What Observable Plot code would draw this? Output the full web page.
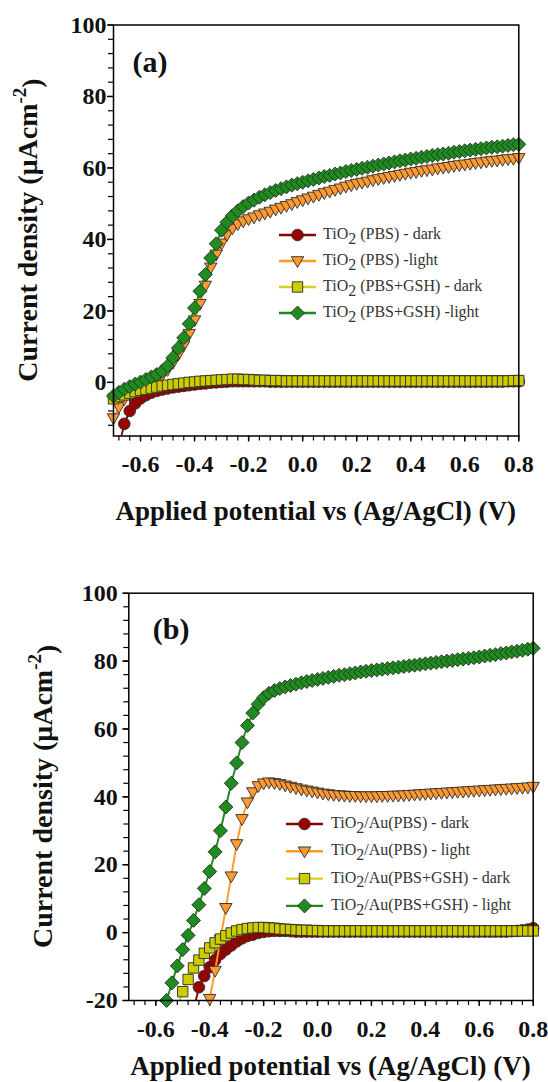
<!DOCTYPE html>
<html><head><meta charset="utf-8">
<script src="https://cdn.jsdelivr.net/npm/d3@7"></script>
<script src="https://cdn.jsdelivr.net/npm/@observablehq/plot@0.6"></script>
<style>
html,body{margin:0;padding:0;background:#fff;}
#wrap{position:relative;width:548px;height:1082px;overflow:hidden;background:#fff;}
#wrap svg{position:absolute;left:0;}
</style></head><body><div id="wrap"></div>
<script>
// ---------------- DATA ----------------
const potential = [
 -0.70,-0.68,-0.66,-0.64,-0.62,-0.60,-0.58,-0.56,-0.54,-0.52,
 -0.50,-0.48,-0.46,-0.44,-0.42,-0.40,-0.38,-0.36,-0.34,-0.32,
 -0.30,-0.28,-0.26,-0.24,-0.22,-0.20,-0.18,-0.16,-0.14,-0.12,
 -0.10,-0.08,-0.06,-0.04,-0.02,0.00,0.02,0.04,0.06,0.08,
 0.10,0.12,0.14,0.16,0.18,0.20,0.22,0.24,0.26,0.28,
 0.30,0.32,0.34,0.36,0.38,0.40,0.42,0.44,0.46,0.48,
 0.50,0.52,0.54,0.56,0.58,0.60,0.62,0.64,0.66,0.68,
 0.70,0.72,0.74,0.76,0.78,0.80];

// Panel (a): TiO2
const a_PBS_dark = [
 -25,-18,-11.6,-8.0,-5.9,-4.5,-3.6,-2.9,-2.4,-2.0,
 -1.7,-1.4,-1.2,-1.0,-0.8,-0.6,-0.4,-0.3,-0.1,0.0,
 0.1,0.2,0.3,0.3,0.3,0.3,0.3,0.3,0.3,0.2,
 0.2,0.2,0.2,0.2,0.2,0.2,0.2,0.2,0.2,0.2,
 0.2,0.2,0.2,0.2,0.2,0.2,0.2,0.2,0.2,0.2,
 0.2,0.2,0.2,0.2,0.2,0.2,0.2,0.2,0.2,0.2,
 0.2,0.2,0.2,0.2,0.2,0.2,0.2,0.2,0.2,0.2,
 0.2,0.2,0.2,0.3,0.3,0.3];
const a_PBS_light = [
 -10.0,-6.9,-4.7,-3.4,-2.4,-1.5,-0.7,0.0,0.9,2.0,
 3.5,5.5,7.8,10.4,13.6,17.4,22.0,27.1,32.2,35.8,
 38.9,41.3,43.1,44.3,45.1,45.7,46.2,46.8,47.3,47.8,
 48.4,48.9,49.4,49.9,50.5,51.0,51.5,52.0,52.5,53.0,
 53.4,53.9,54.3,54.8,55.2,55.6,55.9,56.2,56.6,56.9,
 57.2,57.5,57.8,58.1,58.4,58.7,58.9,59.2,59.4,59.6,
 59.9,60.1,60.3,60.6,60.8,61.0,61.2,61.4,61.6,61.8,
 62.0,62.1,62.3,62.5,62.6,62.8];
const a_GSH_dark = [
 -4.6,-4.0,-3.5,-3.0,-2.6,-2.2,-1.9,-1.6,-1.3,-1.0,
 -0.8,-0.6,-0.4,-0.2,0.0,0.1,0.3,0.4,0.5,0.6,
 0.7,0.8,0.9,0.9,0.8,0.8,0.7,0.6,0.6,0.5,
 0.5,0.5,0.4,0.4,0.4,0.4,0.4,0.4,0.4,0.4,
 0.4,0.4,0.4,0.4,0.4,0.4,0.4,0.4,0.4,0.4,
 0.4,0.4,0.4,0.4,0.4,0.4,0.4,0.4,0.4,0.4,
 0.4,0.4,0.4,0.4,0.4,0.4,0.4,0.4,0.4,0.4,
 0.4,0.4,0.4,0.4,0.5,0.5];
const a_GSH_light = [
 -3.8,-2.8,-1.9,-1.2,-0.5,0.1,0.8,1.5,2.2,3.1,
 4.6,6.9,9.6,12.5,16.4,20.8,25.5,30.2,34.8,38.8,
 42.6,44.8,46.6,48.0,49.2,50.2,51.0,51.8,52.5,53.1,
 53.7,54.2,54.7,55.2,55.6,56.0,56.4,56.8,57.2,57.6,
 57.9,58.3,58.6,59.0,59.3,59.6,59.9,60.2,60.5,60.8,
 61.1,61.4,61.7,62.0,62.2,62.5,62.7,63.0,63.2,63.5,
 63.7,63.9,64.1,64.4,64.6,64.8,65.0,65.2,65.4,65.6,
 65.8,65.9,66.1,66.3,66.5,66.6];

// Panel (b): TiO2/Au
const b_PBS_dark = [
 null,null,null,null,null,null,null,null,null,null,
 null,null,-23,-16.1,-12.8,-10.2,-8.1,-6.3,-5.0,-3.8,
 -2.6,-1.7,-1.0,-0.6,-0.1,0.2,0.4,0.5,0.5,0.5,
 0.4,0.3,0.3,0.3,0.3,0.3,0.3,0.3,0.3,0.3,
 0.3,0.3,0.3,0.3,0.3,0.3,0.3,0.3,0.3,0.3,
 0.3,0.3,0.3,0.3,0.3,0.3,0.3,0.3,0.3,0.3,
 0.3,0.3,0.3,0.3,0.3,0.3,0.3,0.3,0.3,0.3,
 0.3,0.4,0.5,0.7,0.9,1.3];
const b_PBS_light = [
 null,null,null,null,null,null,null,null,null,null,
 null,null,null,null,-28,-19.5,-11.2,-2.0,7.3,16.6,
 26.1,33.5,38.4,41.4,43.2,44.0,44.3,44.1,43.8,43.4,
 43.0,42.6,42.2,41.9,41.6,41.3,41.0,40.8,40.6,40.5,
 40.4,40.3,40.3,40.2,40.2,40.2,40.2,40.3,40.3,40.4,
 40.4,40.5,40.6,40.7,40.8,40.9,41.0,41.1,41.2,41.3,
 41.4,41.5,41.6,41.7,41.8,41.9,42.0,42.1,42.2,42.3,
 42.4,42.5,42.6,42.7,42.8,43.0];
const b_GSH_dark = [
 null,null,null,null,null,null,null,null,null,-22,
 -17.4,-13.8,-10.4,-8.1,-6.1,-4.5,-3.0,-1.9,-0.9,-0.1,
 0.5,0.9,1.2,1.4,1.5,1.5,1.4,1.3,1.1,1.0,
 0.9,0.8,0.7,0.7,0.6,0.6,0.5,0.5,0.5,0.5,
 0.5,0.5,0.5,0.5,0.5,0.5,0.5,0.5,0.5,0.5,
 0.5,0.5,0.5,0.5,0.5,0.5,0.5,0.5,0.5,0.5,
 0.5,0.5,0.5,0.5,0.5,0.5,0.5,0.5,0.5,0.5,
 0.5,0.5,0.5,0.5,0.5,0.5];
const b_GSH_light = [
 null,null,null,null,null,null,-26,-20.0,-14.8,-9.8,
 -5.0,-0.8,3.6,8.2,13.0,18.0,23.8,30.0,37.0,44.0,
 50.0,56.0,61.0,64.7,67.3,69.2,70.5,71.3,71.9,72.4,
 72.8,73.2,73.6,74.0,74.3,74.6,74.9,75.2,75.5,75.8,
 76.0,76.3,76.5,76.8,77.0,77.2,77.4,77.6,77.8,78.0,
 78.2,78.4,78.6,78.8,79.0,79.2,79.4,79.6,79.8,80.0,
 80.2,80.4,80.6,80.8,81.0,81.2,81.5,81.7,81.9,82.2,
 82.4,82.7,82.9,83.2,83.5,83.8];

const xTicks = [-0.6,-0.4,-0.2,0.0,0.2,0.4,0.6,0.8];
const yTicksA = [0,20,40,60,80,100];
const yTicksB = [-20,0,20,40,60,80,100];
const labelsA = [["TiO","2"," (PBS) - dark"],["TiO","2"," (PBS) -light"],["TiO","2"," (PBS+GSH) - dark"],["TiO","2"," (PBS+GSH) -light"]];
const labelsB = [["TiO","2","/Au(PBS) - dark"],["TiO","2","/Au(PBS) - light"],["TiO","2","/Au(PBS+GSH) - dark"],["TiO","2","/Au(PBS+GSH) - light"]];
const xTitle = "Applied potential vs (Ag/AgCl) (V)";
const yTitle = ["Current density (\u03BCAcm", "-2", ")"];

// ---------------- STYLE ----------------
const SERIF = "'Liberation Serif','Times New Roman',serif";
const sym = {
  circle: r => ({draw(c){c.moveTo(r,0);c.arc(0,0,r,0,2*Math.PI);c.closePath();}}),
  tri: h => ({draw(c){c.moveTo(-h,-h*0.7);c.lineTo(h,-h*0.7);c.lineTo(0,h*1.05);c.closePath();}}),
  square: h => ({draw(c){c.rect(-h,-h,2*h,2*h);}}),
  diamond: h => ({draw(c){c.moveTo(0,-h);c.lineTo(h,0);c.lineTo(0,h);c.lineTo(-h,0);c.closePath();}})
};
const styles = [
  {fill:"#990000", line:"#8b0000", symbol: sym.circle(5.8)},
  {fill:"#ff9a33", line:"#ff9a22", symbol: sym.tri(6.2)},
  {fill:"#cccc00", line:"#d2d21e", symbol: sym.square(5.2)},
  {fill:"#1e8c1e", line:"#1a8a1a", symbol: sym.diamond(7)}
];

function panel(cfg) {
  const {series, yDomain, yTicks, width, height, mt, mb, ml, mr, letter, letterDx, letterDy,
         legend, labels, yTitleX, xTitleY, xPad, yPad} = cfg;
  const marks = [];
  const tickFont = {fontSize: 24, fontWeight: "bold", fill: "#111", fontFamily: SERIF};
  // minor ticks
  marks.push(Plot.axisX({ticks: d3.range(-0.68, 0.8001, 0.04), tickSize: 5, tickFormat: () => "", strokeWidth: 1.2}));
  marks.push(Plot.axisY({ticks: d3.range(Math.ceil(yDomain[0]/4)*4, 100.001, 4), tickSize: 5, tickFormat: () => "", strokeWidth: 1.2}));
  // major ticks with labels
  marks.push(Plot.axisX({ticks: xTicks, tickSize: 6, tickPadding: xPad, tickFormat: d => d.toFixed(1), strokeWidth: 1.4, ...tickFont}));
  marks.push(Plot.axisY({ticks: yTicks, tickSize: 6, tickPadding: yPad, tickFormat: d => String(d), strokeWidth: 1.4, ...tickFont}));
  series.forEach((vals, k) => {
    const rows = potential.map((x, i) => ({x, y: vals[i]})).filter(d => d.y !== null);
    const st = styles[k];
    marks.push(Plot.line(rows, {x: "x", y: "y", stroke: st.line, strokeWidth: 1.9, clip: true}));
    marks.push(Plot.dot(rows.filter(d => d.y >= yDomain[0] - 0.5), {x: "x", y: "y", symbol: st.symbol, fill: st.fill, stroke: "#2a2a2a", strokeWidth: 0.9}));
  });
  marks.push(Plot.frame({stroke: "#000", strokeWidth: 1.5}));
  marks.push(Plot.text([letter], {frameAnchor: "top-left", lineAnchor: "middle", textAnchor: "start", dx: letterDx, dy: letterDy,
    fontSize: 30, fontWeight: "bold", fill: "#111", fontFamily: SERIF}));

  const svg = Plot.plot({
    width, height, marginTop: mt, marginBottom: mb, marginLeft: ml, marginRight: mr,
    x: {domain: [-0.7, 0.8], label: null},
    y: {domain: yDomain, label: null},
    style: {fontFamily: SERIF, background: "white", overflow: "visible"},
    marks
  });
  const sx = svg.scale("x"), sy = svg.scale("y");
  const g = d3.select(svg);
  const xr = sx.range, yr = sy.range;
  // x title
  g.append("text").attr("x", (xr[0] + xr[1]) / 2).attr("y", xTitleY)
    .attr("text-anchor", "middle").attr("font-family", SERIF).attr("font-size", 27).attr("font-weight", "bold").attr("fill", "#111")
    .text(xTitle);
  // y title
  const yt = g.append("text").attr("transform", `translate(${yTitleX},${(yr[0] + yr[1]) / 2}) rotate(-90)`)
    .attr("text-anchor", "middle").attr("dominant-baseline", "middle")
    .attr("font-family", SERIF).attr("font-size", 28).attr("font-weight", "bold").attr("fill", "#111");
  yt.append("tspan").text(yTitle[0]);
  yt.append("tspan").attr("dy", "-0.45em").attr("font-size", 19).text(yTitle[1]);
  yt.append("tspan").attr("dy", "0.45em").text(yTitle[2]);
  // legend
  const lg = g.append("g");
  labels.forEach((lab, k) => {
    const y = legend.y0 + k * legend.dy;
    const st = styles[k];
    lg.append("line").attr("x1", legend.x0).attr("x2", legend.x1).attr("y1", y).attr("y2", y)
      .attr("stroke", st.line).attr("stroke-width", 2.4);
    lg.append("path").attr("transform", `translate(${(legend.x0 + legend.x1) / 2},${y})`)
      .attr("d", d3.symbol(st.symbol)()).attr("fill", st.fill).attr("stroke", "#2a2a2a").attr("stroke-width", 0.9);
    const t = lg.append("text").attr("x", legend.tx).attr("y", y).attr("dominant-baseline", "middle")
      .attr("text-anchor", "start")
      .attr("font-family", SERIF).attr("font-size", 16).attr("fill", "#333");
    t.append("tspan").text(lab[0]);
    t.append("tspan").attr("dy", "0.3em").text(lab[1]);
    t.append("tspan").attr("dy", "-0.3em").text(lab[2]);
  });
  return svg;
}

const wrap = document.getElementById("wrap");
const svgA = panel({
  series: [a_PBS_dark, a_PBS_light, a_GSH_dark, a_GSH_light],
  yDomain: [-15, 100], yTicks: yTicksA, width: 548, height: 540,
  mt: 24.5, mb: 104.5, ml: 113, mr: 29.7, letter: "(a)", letterDx: 19, letterDy: 37,
  legend: {x0: 279, x1: 316, tx: 323, y0: 235, dy: 26}, labels: labelsA,
  yTitleX: 31, xTitleY: 520, xPad: 13, yPad: 1
});
svgA.style.top = "0px";
wrap.appendChild(svgA);

const svgB = panel({
  series: [b_PBS_dark, b_PBS_light, b_GSH_dark, b_GSH_light],
  yDomain: [-20, 100], yTicks: yTicksB, width: 548, height: 542,
  mt: 52.7, mb: 82, ml: 128.3, mr: 15.3, letter: "(b)", letterDx: 24, letterDy: 36,
  legend: {x0: 286, x1: 323, tx: 331, y0: 284, dy: 27.3}, labels: labelsB,
  yTitleX: 46, xTitleY: 535, xPad: 13, yPad: 5
});
svgB.style.top = "540px";
wrap.appendChild(svgB);
</script></body></html>
